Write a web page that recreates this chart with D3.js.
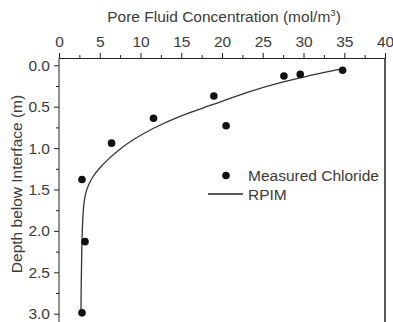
<!DOCTYPE html>
<html lang="en">
<head>
    <meta charset="UTF-8">
    <title>Pore Fluid Concentration vs Depth</title>
    <script src="https://d3js.org/d3.v7.min.js"></script>
    <style>
        body { margin: 0; background: #fff; }
        text { font-family: "Liberation Sans", Arial, sans-serif; fill: #3a3a3a; }
    </style>
</head>
<body>
    <svg id="chart"></svg>

    <script>
        // Measured chloride (concentration mol/m3, depth m)
        const measuredConc = [34.8, 29.6, 27.6, 19.0, 20.5, 11.6, 6.45, 2.82, 3.19, 2.82];
        const measuredDepth = [0.06, 0.11, 0.13, 0.37, 0.73, 0.64, 0.94, 1.38, 2.13, 2.99];

        // RPIM model curve
        const rpimConc = [34.8, 31.0, 27.5, 23.0, 19.0, 15.0, 11.6, 9.1, 7.4, 6.1, 5.0, 4.2, 3.7, 3.35, 3.1, 2.95, 2.86, 2.8, 2.76, 2.72, 2.7];
        const rpimDepth = [0.04, 0.12, 0.2, 0.33, 0.47, 0.61, 0.76, 0.9, 1.02, 1.13, 1.24, 1.34, 1.43, 1.52, 1.64, 1.8, 2.0, 2.2, 2.45, 2.7, 2.97];

        const xTicks = [0, 5, 10, 15, 20, 25, 30, 35, 40];
        const xMinor = [2.5, 7.5, 12.5, 17.5, 22.5, 27.5, 32.5, 37.5];
        const yTicks = [0, 0.5, 1.0, 1.5, 2.0, 2.5, 3.0];
        const yMinor = [0.25, 0.75, 1.25, 1.75, 2.25, 2.75];

        const width = 393, height = 322;
        const plotLeft = 59, plotRight = 385, plotTop = 58, plotBottom = 322;
        const fontSize = 15.5;

        const svg = d3.select("#chart")
            .attr("width", width)
            .attr("height", height);

        const x = d3.scaleLinear().domain([0, 40]).range([plotLeft, plotRight]);
        const y = d3.scaleLinear().domain([0, 3]).range([65.3, 313.7]);

        // top axis
        svg.append("g")
            .attr("transform", `translate(0,${plotTop})`)
            .call(d3.axisTop(x).tickValues(xTicks).tickSize(5).tickPadding(6).tickSizeOuter(0));
        svg.append("g")
            .attr("transform", `translate(0,${plotTop})`)
            .call(d3.axisTop(x).tickValues(xMinor).tickSize(3).tickFormat("").tickSizeOuter(0))
            .select(".domain").remove();

        // left axis
        const yAxis = svg.append("g")
            .attr("transform", `translate(${plotLeft},0)`)
            .call(d3.axisLeft(y).tickValues(yTicks).tickFormat(d3.format(".1f")).tickSize(5).tickPadding(4).tickSizeOuter(0));
        yAxis.select(".domain").remove();
        svg.append("g")
            .attr("transform", `translate(${plotLeft},0)`)
            .call(d3.axisLeft(y).tickValues(yMinor).tickSize(3).tickFormat("").tickSizeOuter(0))
            .select(".domain").remove();

        svg.selectAll(".tick text")
            .attr("font-size", fontSize)
            .attr("font-family", "Liberation Sans, Arial, sans-serif")
            .attr("fill", "#3a3a3a");
        svg.selectAll(".domain, .tick line").attr("stroke", "#222");

        // left axis line and right border, running off the bottom
        svg.append("line")
            .attr("x1", plotLeft).attr("x2", plotLeft)
            .attr("y1", plotTop).attr("y2", plotBottom)
            .attr("stroke", "#222");
        svg.append("line")
            .attr("x1", plotRight).attr("x2", plotRight)
            .attr("y1", plotTop).attr("y2", plotBottom)
            .attr("stroke", "#222")
            .attr("stroke-width", 1.5);

        // axis titles
        const title = svg.append("text")
            .attr("x", 224)
            .attr("y", 22)
            .attr("text-anchor", "middle")
            .attr("font-size", fontSize);
        title.append("tspan").text("Pore Fluid Concentration (mol/m");
        title.append("tspan").attr("font-size", 9.5).attr("dy", -6).text("3");
        title.append("tspan").attr("dy", 6).text(")");

        svg.append("text")
            .attr("transform", "translate(22,184) rotate(-90)")
            .attr("text-anchor", "middle")
            .attr("font-size", fontSize)
            .text("Depth below Interface (m)");

        // RPIM curve
        const line = d3.line()
            .x((d, i) => x(rpimConc[i]))
            .y(d => y(d))
            .curve(d3.curveCatmullRom);
        svg.append("path")
            .datum(rpimDepth)
            .attr("d", line)
            .attr("fill", "none")
            .attr("stroke", "#333")
            .attr("stroke-width", 1.3);

        // measured points
        svg.selectAll("circle.pt")
            .data(measuredConc)
            .enter().append("circle")
            .attr("class", "pt")
            .attr("cx", d => x(d))
            .attr("cy", (d, i) => y(measuredDepth[i]))
            .attr("r", 3.8)
            .attr("fill", "#111");

        // legend
        svg.append("circle")
            .attr("cx", 226).attr("cy", 175.5).attr("r", 3.8).attr("fill", "#111");
        svg.append("text")
            .attr("x", 248).attr("y", 181)
            .attr("font-size", fontSize)
            .text("Measured Chloride");
        svg.append("line")
            .attr("x1", 208).attr("x2", 243)
            .attr("y1", 194).attr("y2", 194)
            .attr("stroke", "#222").attr("stroke-width", 1.3);
        svg.append("text")
            .attr("x", 248).attr("y", 200)
            .attr("font-size", fontSize)
            .text("RPIM");
    </script>
</body>
</html>
